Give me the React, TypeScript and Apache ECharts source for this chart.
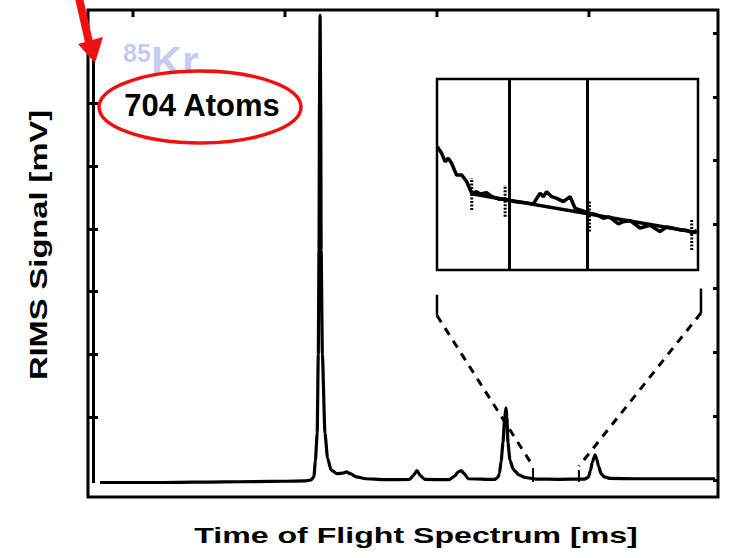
import React, { useEffect, useRef } from "react";
import * as echarts from "echarts";

// Time-of-flight spectrum (arbitrary time units, signal in axis units)
const specTime = [
  7.83, 10, 12, 14, 16, 18, 20, 21.3, 21.7, 21.9, 22.0, 22.12, 22.19, 22.24, 22.27, 22.31, 22.35,
  22.38, 22.46, 22.63, 22.8, 23.03, 23.42, 23.8, 24.05, 24.3, 24.7, 25.3, 26.5, 28.2, 28.45, 28.68,
  28.9, 29.2, 30.8, 31.15, 31.4, 31.6, 31.8, 32.05, 33.8, 34.0, 34.11, 34.22, 34.34, 34.46, 34.54,
  34.6, 34.67, 34.8, 35.0, 35.13, 35.4, 35.8, 36.5, 38, 39.7, 39.95, 40.1, 40.22, 40.4, 40.52,
  40.63, 40.8, 41.0, 41.4, 43, 45, 47, 48.3,
];
const specSignal = [
  -0.04, -0.04, -0.04, -0.035, -0.03, -0.025, -0.02, -0.015, 0.0, 0.05, 0.3, 0.75, 2.0, 3.66, 6.0,
  7.4, 6.0, 3.66, 2.0, 0.75, 0.35, 0.16, 0.1, 0.11, 0.13, 0.1, 0.05, 0.02, 0.005, 0.01, 0.07, 0.15,
  0.07, 0.01, 0.005, 0.06, 0.13, 0.15, 0.1, 0.02, 0.01, 0.04, 0.1, 0.3, 0.59, 1.0, 1.15, 1.0, 0.59,
  0.32, 0.18, 0.14, 0.08, 0.04, 0.015, 0.01, 0.015, 0.04, 0.15, 0.28, 0.4, 0.33, 0.22, 0.1, 0.05,
  0.025, 0.02, 0.02, 0.02, 0.02,
];

// Zoomed region (inset), relative position 0..100 and relative signal 0..100
const insetPos = [
  0.1, 1.8, 3.1, 4.3, 5.6, 7.5, 9.5, 11.4, 13.3, 15.2, 16.5, 19.0, 21.0, 23.5, 26.5, 30, 33, 36.9,
  39.5, 40.7, 42.0, 43.9, 45.9, 48.4, 51.0, 52.9, 54.8, 57.4, 59, 61.2, 63.7, 66, 69.5, 71.4, 74,
  77.8, 81.6, 85.4, 88.0, 90.5, 93.1, 95.5, 97.6, 99.5,
];
const insetSignal = [
  64.6, 61.1, 56.7, 58.5, 55.9, 49.7, 49.7, 46.2, 40.2, 41.0, 39.8, 40.5, 38.4, 37.2, 36.9, 35.7,
  35.4, 34.6, 40.2, 38.4, 41.0, 38.4, 37.5, 35.8, 38.4, 32.3, 31.4, 30.2, 29.6, 28.9, 27.1, 27.8,
  24.2, 25.3, 25.9, 22.0, 23.4, 20.2, 22.5, 21.9, 21.0, 20.8, 19.5, 20.6,
];
const fitPos = [13.3, 99.5];
const fitSignal = [39.9, 19.6];
const gatePos = [27.6, 57.5];
// error bars: position, low, high
const errPos = [13.3, 26.1, 58.4, 97.6];
const errLow = [31.4, 27.9, 20.1, 10.5];
const errHigh = [48.2, 44.5, 36.6, 26.2];

// zoom connectors (main axis units)
const connLeftTime = [30.0, 30.0, 36.32];
const connLeftSig = [2.95, 2.62, 0.22];
const connRightTime = [47.37, 47.37, 39.34];
const connRightSig = [3.05, 2.66, 0.22];
const markTime = [36.32, 39.34];
const markTop = [0.19, 0.16];
const markBottom = [-0.03, -0.03];

// axis ticks
const xTicks = [10, 20, 30, 40];
const leftTicks = [1, 2, 3, 4, 5, 6];
const rightTicks = [0, 1, 2, 3, 4, 5, 6, 7];

const X_MIN = 7.04;
const X_MAX = 48.49;
const Y_MIN = -0.2707;
const Y_MAX = 7.484;

const zip = (a: number[], b: number[]) => a.map((v, i) => [v, b[i]]);

export default function App() {
  const ref = useRef<HTMLDivElement>(null);

  useEffect(() => {
    if (!ref.current) return;
    const chart = echarts.init(ref.current, null, { renderer: "svg" });
    const RED = "#f01010";
    const FONT = '"Liberation Sans", Arial, sans-serif';

    const hidden = {
      axisLine: { show: false, onZero: false },
      splitLine: { show: false },
      axisLabel: { show: false },
    };

    chart.setOption({
      animation: false,
      backgroundColor: "#fff",
      grid: [
        { left: 88, top: 10, width: 630, height: 487, show: true, borderColor: "#000", borderWidth: 3 },
        {
          left: 437, top: 79, width: 261, height: 191, show: true,
          borderColor: "#000", borderWidth: 2.5, backgroundColor: "#fff",
        },
      ],
      xAxis: [
        { gridIndex: 0, type: "value", min: X_MIN, max: X_MAX, ...hidden, axisTick: { show: false } },
        { gridIndex: 1, type: "value", min: 0, max: 100, show: false },
      ],
      yAxis: [
        {
          gridIndex: 0, type: "value", position: "left", min: Y_MIN, max: Y_MAX, ...hidden,
          axisTick: { show: true, inside: true, length: 10, lineStyle: { color: "#000", width: 3 }, customValues: leftTicks },
        },
        {
          gridIndex: 0, type: "value", position: "right", min: -0.266, max: 7.36, ...hidden,
          axisTick: { show: true, inside: true, length: 5, lineStyle: { color: "#000", width: 3 }, customValues: rightTicks },
        },
        { gridIndex: 1, type: "value", min: 0, max: 100, show: false },
      ],
      series: [
        {
          type: "line", xAxisIndex: 0, yAxisIndex: 0, data: zip(specTime, specSignal),
          symbol: "none", smooth: 0.2, smoothMonotone: "x",
          lineStyle: { color: "#000", width: 3.2 }, z: 5,
        },
        {
          type: "line", xAxisIndex: 0, yAxisIndex: 0, data: zip(connLeftTime.slice(0, 2), connLeftSig.slice(0, 2)),
          symbol: "none", lineStyle: { color: "#000", width: 2.5 },
        },
        {
          type: "line", xAxisIndex: 0, yAxisIndex: 0, data: zip(connLeftTime.slice(1), connLeftSig.slice(1)),
          symbol: "none", lineStyle: { color: "#000", width: 3, type: [8, 7] },
        },
        {
          type: "line", xAxisIndex: 0, yAxisIndex: 0, data: zip(connRightTime.slice(0, 2), connRightSig.slice(0, 2)),
          symbol: "none", lineStyle: { color: "#000", width: 2.5 },
        },
        {
          type: "line", xAxisIndex: 0, yAxisIndex: 0, data: zip(connRightTime.slice(1), connRightSig.slice(1)),
          symbol: "none", lineStyle: { color: "#000", width: 3, type: [8, 7] },
        },
        ...markTime.map((t, i) => ({
          type: "line", xAxisIndex: 0, yAxisIndex: 0, data: [[t, markTop[i]], [t, markBottom[i]]],
          symbol: "none", lineStyle: { color: "#000", width: 2 },
        })),
        // top-edge ticks of the time axis, hanging from the frame
        ...xTicks.map((t) => ({
          type: "line", xAxisIndex: 0, yAxisIndex: 0, data: [[t, Y_MAX], [t, Y_MAX - 0.11]],
          symbol: "none", lineStyle: { color: "#000", width: 3 }, z: 6,
        })),
        {
          type: "line", xAxisIndex: 1, yAxisIndex: 2, data: zip(insetPos, insetSignal),
          symbol: "none", lineStyle: { color: "#000", width: 3.5 }, z: 5,
        },
        {
          type: "line", xAxisIndex: 1, yAxisIndex: 2, data: zip(fitPos, fitSignal),
          symbol: "none", lineStyle: { color: "#000", width: 3.5 }, z: 5,
          markLine: {
            silent: true, symbol: "none", label: { show: false },
            lineStyle: { color: "#000", width: 3, type: "solid" },
            data: gatePos.map((p) => ({ xAxis: p })),
          },
        },
        {
          type: "custom", xAxisIndex: 1, yAxisIndex: 2,
          data: errPos.map((p, i) => [p, errLow[i], errHigh[i]]),
          renderItem: (_params: any, api: any) => {
            const a = api.coord([api.value(0), api.value(1)]);
            const b = api.coord([api.value(0), api.value(2)]);
            return {
              type: "line",
              shape: { x1: a[0], y1: a[1], x2: b[0], y2: b[1] },
              style: { stroke: "#000", lineWidth: 3, lineDash: [2, 1.5] },
            };
          },
          z: 6,
        },
      ],
      graphic: [
        { type: "line", z: 10, shape: { x1: 93.5, y1: 60, x2: 93.5, y2: 483 }, style: { stroke: "#000", lineWidth: 3 } },
        { type: "line", z: 20, shape: { x1: 79, y1: -2, x2: 89, y2: 42 }, style: { stroke: RED, lineWidth: 8 } },
        { type: "polygon", z: 20, shape: { points: [[78, 44], [103, 37], [95, 63]] }, style: { fill: RED } },
        {
          type: "text", z: 10, x: 137, y: 52.5,
          style: { text: "85", font: `bold 25px ${FONT}`, fill: "#c6cbf4", align: "center", verticalAlign: "middle" },
        },
        {
          type: "text", z: 10, x: 151, y: 61,
          style: { text: "Kr", font: `bold 43px ${FONT}`, fill: "#c6cbf4", align: "left", verticalAlign: "middle" },
        },
        {
          type: "ellipse", z: 11, shape: { cx: 200, cy: 107, rx: 101, ry: 36 },
          style: { fill: "#fff", stroke: RED, lineWidth: 3.5 },
        },
        {
          type: "text", z: 12, x: 202, y: 105,
          style: { text: "704 Atoms", font: `bold 31px ${FONT}`, fill: "#000", align: "center", verticalAlign: "middle" },
        },
        {
          type: "text", z: 12, x: 416, y: 535, scaleX: 1.46,
          style: { text: "Time of Flight Spectrum [ms]", font: `bold 22px ${FONT}`, fill: "#000", align: "center", verticalAlign: "middle" },
        },
        {
          type: "text", z: 12, x: 38.5, y: 245, rotation: Math.PI / 2, scaleX: 1.42,
          style: { text: "RIMS Signal [mV]", font: `bold 23px ${FONT}`, fill: "#000", align: "center", verticalAlign: "middle" },
        },
      ],
    });
    return () => chart.dispose();
  }, []);

  return <div ref={ref} style={{ width: 730, height: 558, position: "absolute", left: 0, top: 0 }} />;
}
